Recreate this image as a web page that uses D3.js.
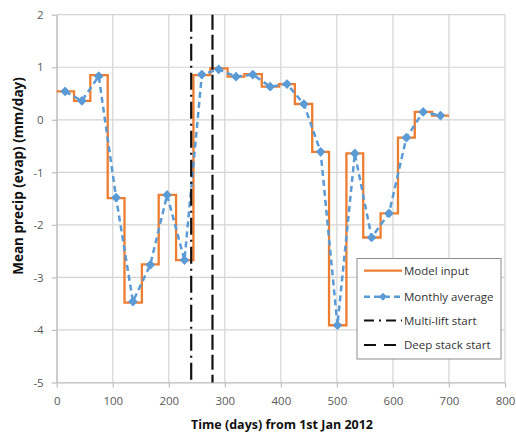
<!DOCTYPE html>
<html><head><meta charset="utf-8">
<script src="https://cdn.jsdelivr.net/npm/d3@7"></script>
<style>body{margin:0;background:#fff}svg{display:block;font-family:"Open Sans","Liberation Sans",sans-serif}</style>
</head><body><svg id="c" width="516" height="434"></svg>
<script>
// Month boundaries (days from 1 Jan 2012)
const monthEdges = [0,31,60,91,121,152,182,213,244,274,305,335,366,397,425,456,486,517,547,578,609,639,670,700];
// Model input (monthly step values)
const modelInput = [0.54,0.36,0.85,-1.49,-3.48,-2.75,-1.43,-2.67,0.85,0.98,0.82,0.87,0.63,0.68,0.30,-0.61,-3.91,-0.64,-2.24,-1.78,-0.34,0.15,0.08];
// Monthly average (mid-month points)
const monthMid = [15,45,75,106,136,167,197,228,259,289,320,350,381,411,441,471,501,532,562,593,624,654,685];
const monthlyAvg = [0.54,0.36,0.83,-1.48,-3.46,-2.76,-1.43,-2.67,0.86,0.96,0.82,0.86,0.63,0.68,0.30,-0.61,-3.91,-0.64,-2.24,-1.78,-0.34,0.15,0.08];
const multiLiftStart = 240;
const deepStackStart = 278;
const xTicks = [0,100,200,300,400,500,600,700,800];
const yTicks = [2,1,0,-1,-2,-3,-4,-5];
const legendLabels = ["Model input","Monthly average","Multi-lift start","Deep stack start"];

const svg = d3.select("#c");
const L=56.7,R=505,T=14.7,B=382.5;
const x = d3.scaleLinear().domain([0,800]).range([L,R]);
const y = d3.scaleLinear().domain([-5,2]).range([B,T]);

// gridlines
svg.append("g").selectAll("line").data(yTicks).join("line")
  .attr("x1",L).attr("x2",R).attr("y1",d=>y(d)).attr("y2",d=>y(d))
  .attr("stroke","#d4d4d4").attr("stroke-width",1.2);
svg.append("g").selectAll("line").data(xTicks).join("line")
  .attr("y1",T).attr("y2",B).attr("x1",d=>x(d)).attr("x2",d=>x(d))
  .attr("stroke","#d4d4d4").attr("stroke-width",1.2);

// axes
const fmt = d => String(d);
const ax = svg.append("g").attr("transform",`translate(0,${B})`)
  .call(d3.axisBottom(x).tickValues(xTicks).tickFormat(fmt).tickSize(5).tickSizeOuter(0).tickPadding(9));
const ay = svg.append("g").attr("transform",`translate(${L},0)`)
  .call(d3.axisLeft(y).tickValues(yTicks).tickFormat(fmt).tickSize(5).tickSizeOuter(0).tickPadding(8));
[ax,ay].forEach(a=>{
  a.selectAll("path,line").attr("stroke","#bfbfbf").attr("stroke-width",1.2);
  a.selectAll("text").attr("fill","#595959").style("font-size","11.5px").style("font-family","'Open Sans',sans-serif");
});

// step model input
const stepPts = monthEdges.map((e,i)=>[e, modelInput[Math.min(i,modelInput.length-1)]]);
svg.append("path").datum(stepPts)
  .attr("d",d3.line().x(d=>x(d[0])).y(d=>y(d[1])).curve(d3.curveStepAfter))
  .attr("fill","none").attr("stroke","#ED7D31").attr("stroke-width",2.3);

// monthly average
const avg = monthMid.map((m,i)=>[m,monthlyAvg[i]]);
svg.append("path").datum(avg)
  .attr("d",d3.line().x(d=>x(d[0])).y(d=>y(d[1])))
  .attr("fill","none").attr("stroke","#5B9BD5").attr("stroke-width",2.5).attr("stroke-dasharray","6,4");
svg.append("g").selectAll("path").data(avg).join("path")
  .attr("d",d3.symbol(d3.symbolDiamond2,60))
  .attr("transform",d=>`translate(${x(d[0])},${y(d[1])})`)
  .attr("fill","#5B9BD5");

// vertical lines
svg.append("line").attr("x1",x(multiLiftStart)).attr("x2",x(multiLiftStart)).attr("y1",T).attr("y2",B)
  .attr("stroke","#111").attr("stroke-width",2.2).attr("stroke-dasharray","17,5,2,5");
svg.append("line").attr("x1",x(deepStackStart)).attr("x2",x(deepStackStart)).attr("y1",T).attr("y2",B)
  .attr("stroke","#111").attr("stroke-width",2.2).attr("stroke-dasharray","15,5");

// axis titles
svg.append("text").attr("x",282).attr("y",429).attr("text-anchor","middle")
  .style("font-size","12.5px").style("font-weight","bold").attr("fill","#111")
  .text("Time (days) from 1st Jan 2012");
svg.append("text").attr("transform","translate(23,176) rotate(-90)").attr("text-anchor","middle")
  .style("font-size","13.5px").style("font-weight","bold").attr("fill","#111")
  .text("Mean precip (evap) (mm/day)");

// legend
const lg = svg.append("g");
lg.append("rect").attr("x",357).attr("y",258.5).attr("width",144).attr("height",100.5)
  .attr("fill","#fff").attr("stroke","#8c8c8c").attr("stroke-width",1);
const rows=[270.7,296.7,320.5,345];
const styles=[
  {c:"#ED7D31",w:2.3,d:null},
  {c:"#5B9BD5",w:2.5,d:"6,4"},
  {c:"#111",w:2.2,d:"10,5,2,5"},
  {c:"#111",w:2.2,d:"12,8"}];
rows.forEach((ry,i)=>{
  const s=styles[i];
  const ln=lg.append("line").attr("x1",364).attr("x2",402).attr("y1",ry).attr("y2",ry)
    .attr("stroke",s.c).attr("stroke-width",s.w);
  if(s.d) ln.attr("stroke-dasharray",s.d);
  if(i===1) lg.append("path").attr("d",d3.symbol(d3.symbolDiamond2,40)).attr("transform",`translate(383,${ry})`).attr("fill","#5B9BD5");
  lg.append("text").attr("x",404).attr("y",ry+4).style("font-size","11.5px").attr("fill","#333").text(legendLabels[i]);
});
</script></body></html>
